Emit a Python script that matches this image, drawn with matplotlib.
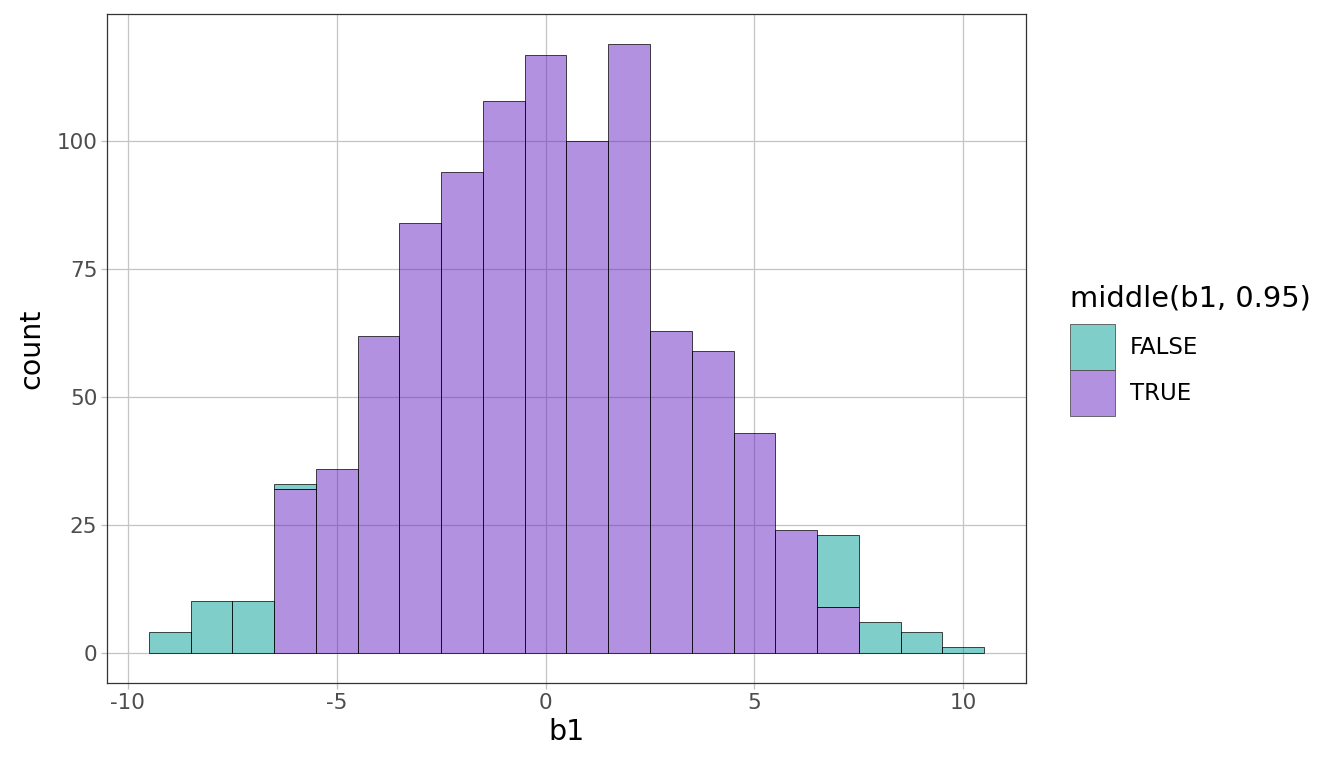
import numpy as np
import matplotlib.pyplot as plt
from matplotlib.patches import Patch

plt.rcParams['axes.unicode_minus'] = False

# bin centers (width 1) and counts per group
bin_centers = list(range(-9, 11))
true_counts = [0, 0, 0, 32, 36, 62, 84, 94, 108, 117, 100, 119, 63, 59, 43, 24, 9, 0, 0, 0]
false_counts = [4, 10, 10, 1, 0, 0, 0, 0, 0, 0, 0, 0, 0, 0, 0, 0, 14, 6, 4, 1]
group_labels = ['FALSE', 'TRUE']

teal = (0.0, 0.62, 0.59, 0.5)
purple = (0.40, 0.15, 0.76, 0.5)

fig = plt.figure(figsize=(13.44, 7.68), dpi=100)
ax = fig.add_axes([0.0796, 0.1107, 0.6838, 0.8711])

x = np.array(bin_centers)
t = np.array(true_counts)
f = np.array(false_counts)

ax.set_axisbelow(True)
ax.grid(True, color='#c4c4c4', linewidth=0.9)

mask_t = t > 0
ax.bar(x[mask_t], t[mask_t], width=1.0, color=purple, edgecolor='black', linewidth=0.5)
mask_f = f > 0
ax.bar(x[mask_f], f[mask_f], width=1.0, bottom=t[mask_f], color=teal, edgecolor='black', linewidth=0.5)

ax.set_xlim(-10.5, 11.5)
ax.set_ylim(-5.95, 124.95)
ax.set_xticks([-10, -5, 0, 5, 10])
ax.set_yticks([0, 25, 50, 75, 100])
ax.tick_params(labelcolor='#4d4d4d', labelsize=15.5, length=4, width=0.9,
               color='#bfbfbf', pad=3)
for s in ax.spines.values():
    s.set_color('#333333')
    s.set_linewidth(0.9)

ax.set_xlabel('b1', fontsize=20.5, color='black', labelpad=4)
ax.set_ylabel('count', fontsize=20.5, color='black', labelpad=8)

handles = [Patch(facecolor=teal, edgecolor='#555555', linewidth=0.6),
           Patch(facecolor=purple, edgecolor='#555555', linewidth=0.6)]
leg = fig.legend(handles, group_labels, title='middle(b1, 0.95)',
                 loc='upper left', bbox_to_anchor=(0.796, 0.629),
                 frameon=False, fontsize=16.5, title_fontsize=20.8,
                 handlelength=1.96, handleheight=2.71, handletextpad=0.65,
                 labelspacing=0.0, borderaxespad=0, borderpad=0)
leg._legend_box.align = 'left'
leg._legend_box.sep = 8

fig.savefig('out.png', dpi=100)
